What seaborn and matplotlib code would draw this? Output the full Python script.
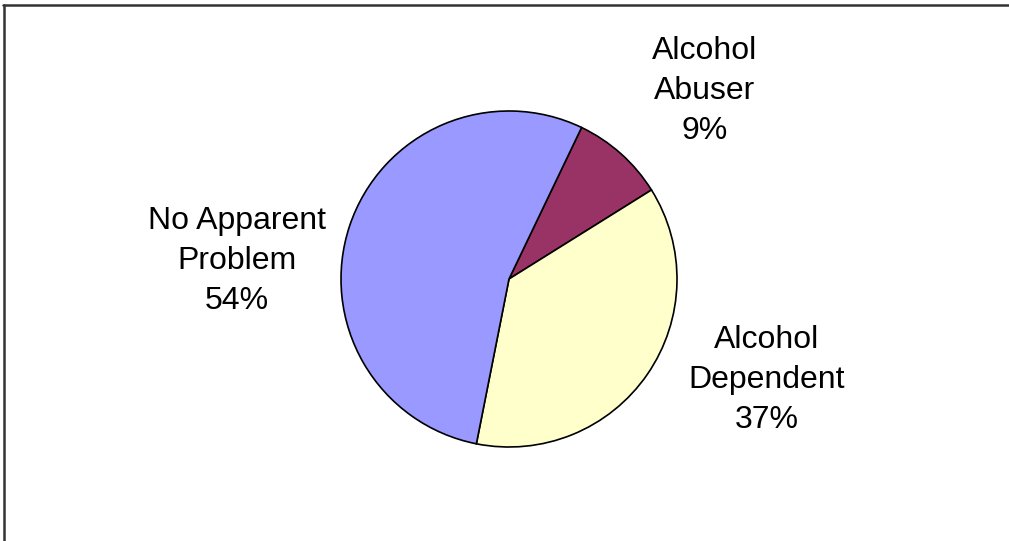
import matplotlib
matplotlib.use("Agg")
import matplotlib.pyplot as plt
import seaborn as sns

# Drinking-status breakdown (percent of respondents)
categories = ["Alcohol\nAbuser", "Alcohol\nDependent", "No Apparent\nProblem"]
shares = [9, 37, 54]
colors = ["#993366", "#FFFFCC", "#9999FF"]

sns.set_theme(style="white")
plt.rcParams["font.family"] = ["Liberation Sans", "DejaVu Sans"]

W, H = 1009, 541
fig = plt.figure(figsize=(W / 100, H / 100), dpi=100)
ax = fig.add_axes([0, 0, 1, 1])

cx, cy, r = 509, H - 279, 168
ax.pie(
    shares,
    colors=colors,
    center=(cx, cy),
    radius=r,
    startangle=64.4,
    counterclock=False,
    wedgeprops=dict(edgecolor="black", linewidth=1.2),
    frame=True,
)
ax.set_xlim(0, W)
ax.set_ylim(0, H)
ax.set_aspect("equal")
ax.axis("off")

label_pos = [(705, H - 91), (767, H - 380), (237, H - 261)]
for name, val, (lx, ly) in zip(categories, shares, label_pos):
    ax.text(lx, ly, f"{name}\n{val}%", ha="center", va="center",
            fontsize=23, linespacing=1.43, color="black")

# chart-area frame: top and left edges
ax.plot([3, W], [H - 5, H - 5], color="#333333", lw=1.8, clip_on=False)
ax.plot([3.5, 3.5], [0, H - 5], color="#333333", lw=1.8, clip_on=False)

fig.savefig("out.png", dpi=100)
